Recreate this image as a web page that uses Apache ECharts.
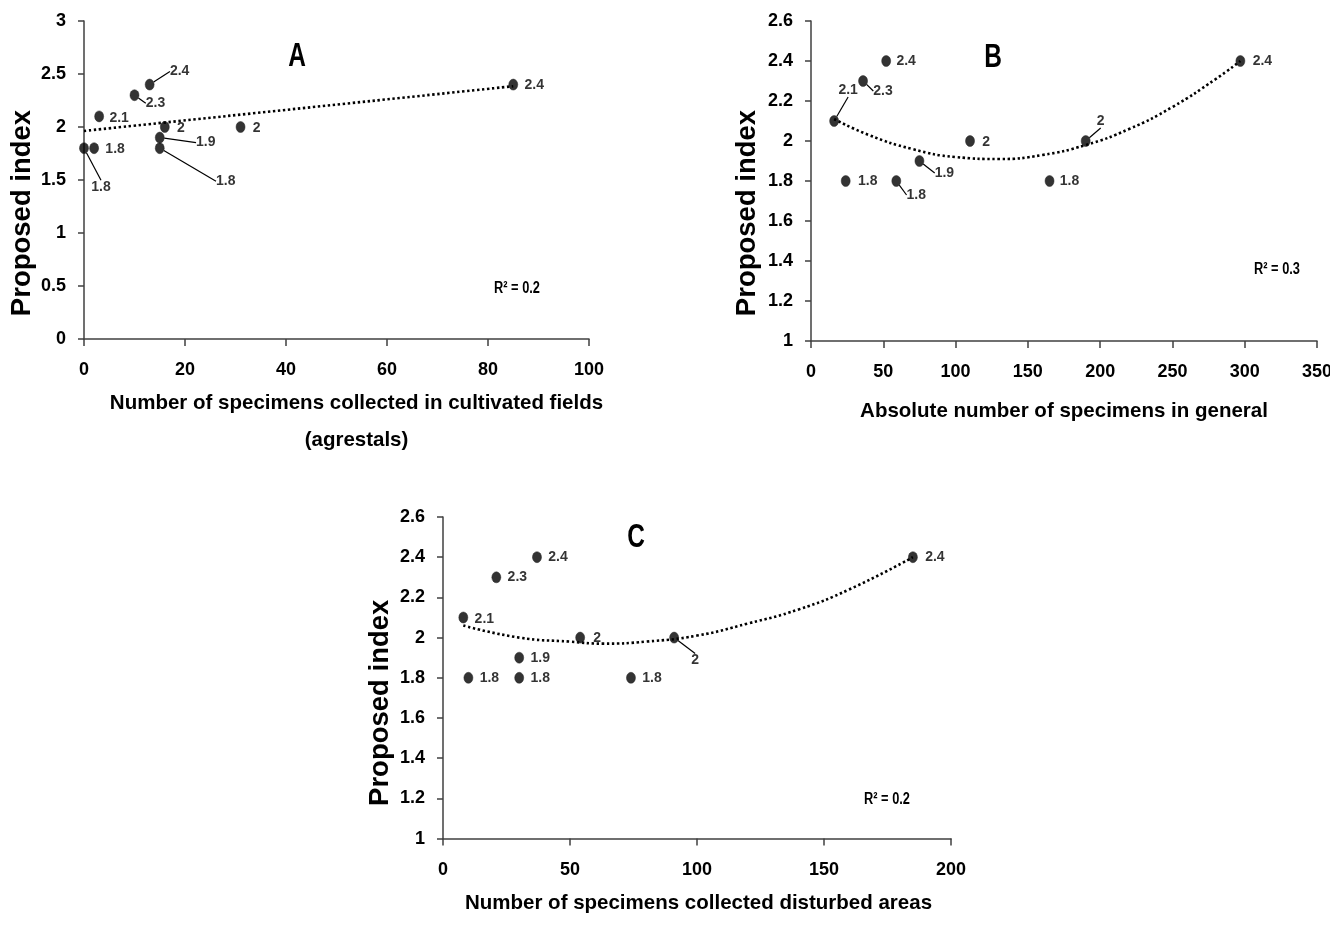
<!DOCTYPE html>
<html>
<head>
<meta charset="utf-8">
<script src="https://cdn.jsdelivr.net/npm/echarts@6/dist/echarts.min.js"></script>
<style>
html,body{margin:0;padding:0;background:#fff;}
#chart{width:1330px;height:930px;}
</style>
</head>
<body>
<div id="chart"></div>
<script>
// ---------------- DATA ----------------
// Panel A: specimens collected in cultivated fields (agrestals)
const xA = [0, 2, 3, 10, 13, 15, 15, 16, 31, 85];
const yA = [1.8, 1.8, 2.1, 2.3, 2.4, 1.9, 1.8, 2.0, 2.0, 2.4];
const trendA = [[0, 1.963], [85, 2.385]];

// Panel B: absolute number of specimens in general
const xB = [16, 24, 36, 52, 59, 75, 110, 165, 190, 297];
const yB = [2.1, 1.8, 2.3, 2.4, 1.8, 1.9, 2.0, 1.8, 2.0, 2.4];
const trendB = [[16, 2.11], [40, 2.03], [70, 1.96], [100, 1.92], [130, 1.91], [160, 1.93], [190, 1.98], [220, 2.06], [250, 2.17], [280, 2.31], [297, 2.40]];

// Panel C: specimens collected in disturbed areas
const xC = [8, 10, 21, 37, 30, 30, 54, 74, 91, 185];
const yC = [2.1, 1.8, 2.3, 2.4, 1.9, 1.8, 2.0, 1.8, 2.0, 2.4];
const trendC = [[8, 2.06], [30, 2.00], [50, 1.98], [63, 1.97], [80, 1.98], [100, 2.01], [120, 2.07], [140, 2.14], [160, 2.24], [185, 2.40]];

const panelLetters = ['A', 'B', 'C'];
const r2Texts = ['R² = 0.2', 'R² = 0.3', 'R² = 0.2'];
const xTitles = ['Number of specimens collected in cultivated fields\n(agrestals)',
                 'Absolute number of specimens in general',
                 'Number of specimens collected disturbed areas'];
const yTitle = 'Proposed index';
// axis ranges [min, max, interval]
const xRangeA = [0, 100, 20], yRangeA = [0, 3, 0.5];
const xRangeB = [0, 350, 50], yRangeB = [1, 2.6, 0.2];
const xRangeC = [0, 200, 50], yRangeC = [1, 2.6, 0.2];

// ---------------- LABEL PLACEMENT (style only) ----------------
// [dx, dy, leaderType]
const labA = [[17,39,'over'],[21,1,null],[20,2,null],[21,8,'elbow'],[30,-13,'diag'],[46,5,'diag'],[66,33,'diag'],[16,1,null],[16,1,null],[21,1,null]];
const labB = [[14,-31,'under'],[22,0,null],[20,10,'elbow'],[20,0,null],[20,14,'elbow'],[25,12,'elbow'],[16,1,null],[20,0,null],[15,-20,'elbow'],[22,0,null]];
const labC = [[21,2,null],[21,0,null],[21,0,null],[21,0,null],[21,0,null],[21,0,null],[17,1,null],[21,0,null],[21,23,'elbow'],[22,0,null]];

const SANS = "'Liberation Sans',Arial,sans-serif";
const AX = '#404040';

function makeLayout(offs) {
  return function (p) {
    const o = offs[p.dataIndex];
    const cx = p.rect.x + p.rect.width / 2, cy = p.rect.y + p.rect.height / 2;
    const lx = cx + o[0], ly = cy + o[1];
    const hw = p.labelRect.width / 2, hh = p.labelRect.height / 2;
    const res = { x: lx, y: ly, align: 'center', verticalAlign: 'middle' };
    let pts = null;
    if (o[2] === 'over') pts = [[cx, cy], [lx, ly - hh + 1], [lx, ly - hh + 1]];
    else if (o[2] === 'under') pts = [[cx, cy], [lx + 3, ly + hh], [lx + 3, ly + hh]];
    else if (o[2] === 'elbow') pts = [[cx, cy], [cx + 2, ly], [lx - hw - 2, ly]];
    else if (o[2] === 'diag') pts = [[cx, cy], [lx - hw - 9, ly], [lx - hw - 2, ly]];
    if (pts) res.labelLinePoints = pts;
    return res;
  };
}

function buildData(xs, ys, offs) {
  return xs.map((x, i) => ({ value: [x, ys[i]], labelLine: { show: !!offs[i][2] } }));
}

function xAxisCfg(idx, r, name, gap, pad, lh) {
  return {
    type: 'value', gridIndex: idx, min: r[0], max: r[1], interval: r[2],
    name: name, nameLocation: 'middle', nameGap: gap, nameMoveOverlap: false,
    nameTextStyle: { fontFamily: SANS, fontWeight: 'bold', fontSize: 20.5, color: '#000', lineHeight: lh, padding: pad },
    axisLine: { show: true, onZero: false, lineStyle: { color: AX, width: 1.5 } },
    axisTick: { show: true, inside: false, length: 7, lineStyle: { color: AX, width: 1.5 } },
    axisLabel: { fontFamily: SANS, fontWeight: 'bold', fontSize: 18, color: '#000', margin: 22 },
    splitLine: { show: false }
  };
}
function yAxisCfg(idx, r, gap, pad) {
  return {
    type: 'value', gridIndex: idx, min: r[0], max: r[1], interval: r[2],
    name: yTitle, nameLocation: 'middle', nameGap: gap, nameRotate: 90, nameMoveOverlap: false,
    nameTextStyle: { fontFamily: SANS, fontWeight: 'bold', fontSize: 27.5, color: '#000', lineHeight: 32, padding: pad },
    axisLine: { show: true, onZero: false, lineStyle: { color: AX, width: 1.5 } },
    axisTick: { show: true, inside: false, length: 6, lineStyle: { color: AX, width: 1.5 } },
    axisLabel: { fontFamily: SANS, fontWeight: 'bold', fontSize: 18, color: '#000', margin: 18 },
    splitLine: { show: false }
  };
}

function scatterSeries(idx, xs, ys, offs) {
  return {
    type: 'scatter', xAxisIndex: idx, yAxisIndex: idx,
    data: buildData(xs, ys, offs),
    symbol: 'circle', symbolSize: [9, 11],
    itemStyle: { color: '#000', borderColor: '#222', borderWidth: 0.6 },
    label: {
      show: true, position: 'right',
      formatter: p => String(p.value[1]),
      fontFamily: SANS, fontWeight: 'bold', fontSize: 14, color: '#000'
    },
    labelLine: { show: false, lineStyle: { color: '#000', width: 1.2 } },
    labelLayout: makeLayout(offs),
    z: 3
  };
}
function trendSeries(idx, pts) {
  return {
    type: 'line', xAxisIndex: idx, yAxisIndex: idx, data: pts,
    symbol: 'none', smooth: true, silent: true,
    lineStyle: { color: '#000', width: 2.6, type: [2.4, 2.6] },
    z: 2
  };
}

const chart = echarts.init(document.getElementById('chart'), null, { renderer: 'canvas', width: 1330, height: 930 });

const letterPos = [[297, 57], [993, 58], [636, 538]];
const r2Pos = [[517, 289], [1277, 270], [887, 800]];

const graphics = [];
panelLetters.forEach((t, i) => graphics.push({
  type: 'text', x: letterPos[i][0], y: letterPos[i][1], scaleX: 0.72,
  style: { text: t, font: "bold 34px " + SANS, fill: '#000', align: 'center', verticalAlign: 'middle' }
}));
r2Texts.forEach((t, i) => graphics.push({
  type: 'text', x: r2Pos[i][0], y: r2Pos[i][1], scaleX: 0.8,
  style: { text: t, font: "bold 16px " + SANS, fill: '#000', align: 'center', verticalAlign: 'middle' }
}));

const gridBase = { outerBoundsMode: 'none', containLabel: false };
chart.setOption({
  animation: false,
  backgroundColor: '#fff',
  grid: [
    Object.assign({ left: 84, width: 505, top: 21, height: 318 }, gridBase),
    Object.assign({ left: 811, width: 506, top: 21, height: 320 }, gridBase),
    Object.assign({ left: 443, width: 508, top: 517, height: 321.6 }, gridBase)
  ],
  xAxis: [
    xAxisCfg(0, xRangeA, xTitles[0], 46, [0, 0, 0, 40], 37),
    xAxisCfg(1, xRangeB, xTitles[1], 55, [0, 0, 0, 0], 30),
    xAxisCfg(2, xRangeC, xTitles[2], 50, [0, 0, 0, 3], 30)
  ],
  yAxis: [
    yAxisCfg(0, yRangeA, 46, [0, 66, 0, 0]),
    yAxisCfg(1, yRangeB, 48, [0, 64, 0, 0]),
    yAxisCfg(2, yRangeC, 47, [0, 50, 0, 0])
  ],
  series: [
    trendSeries(0, trendA), scatterSeries(0, xA, yA, labA),
    trendSeries(1, trendB), scatterSeries(1, xB, yB, labB),
    trendSeries(2, trendC), scatterSeries(2, xC, yC, labC)
  ],
  graphic: graphics
});
</script>
</body>
</html>
